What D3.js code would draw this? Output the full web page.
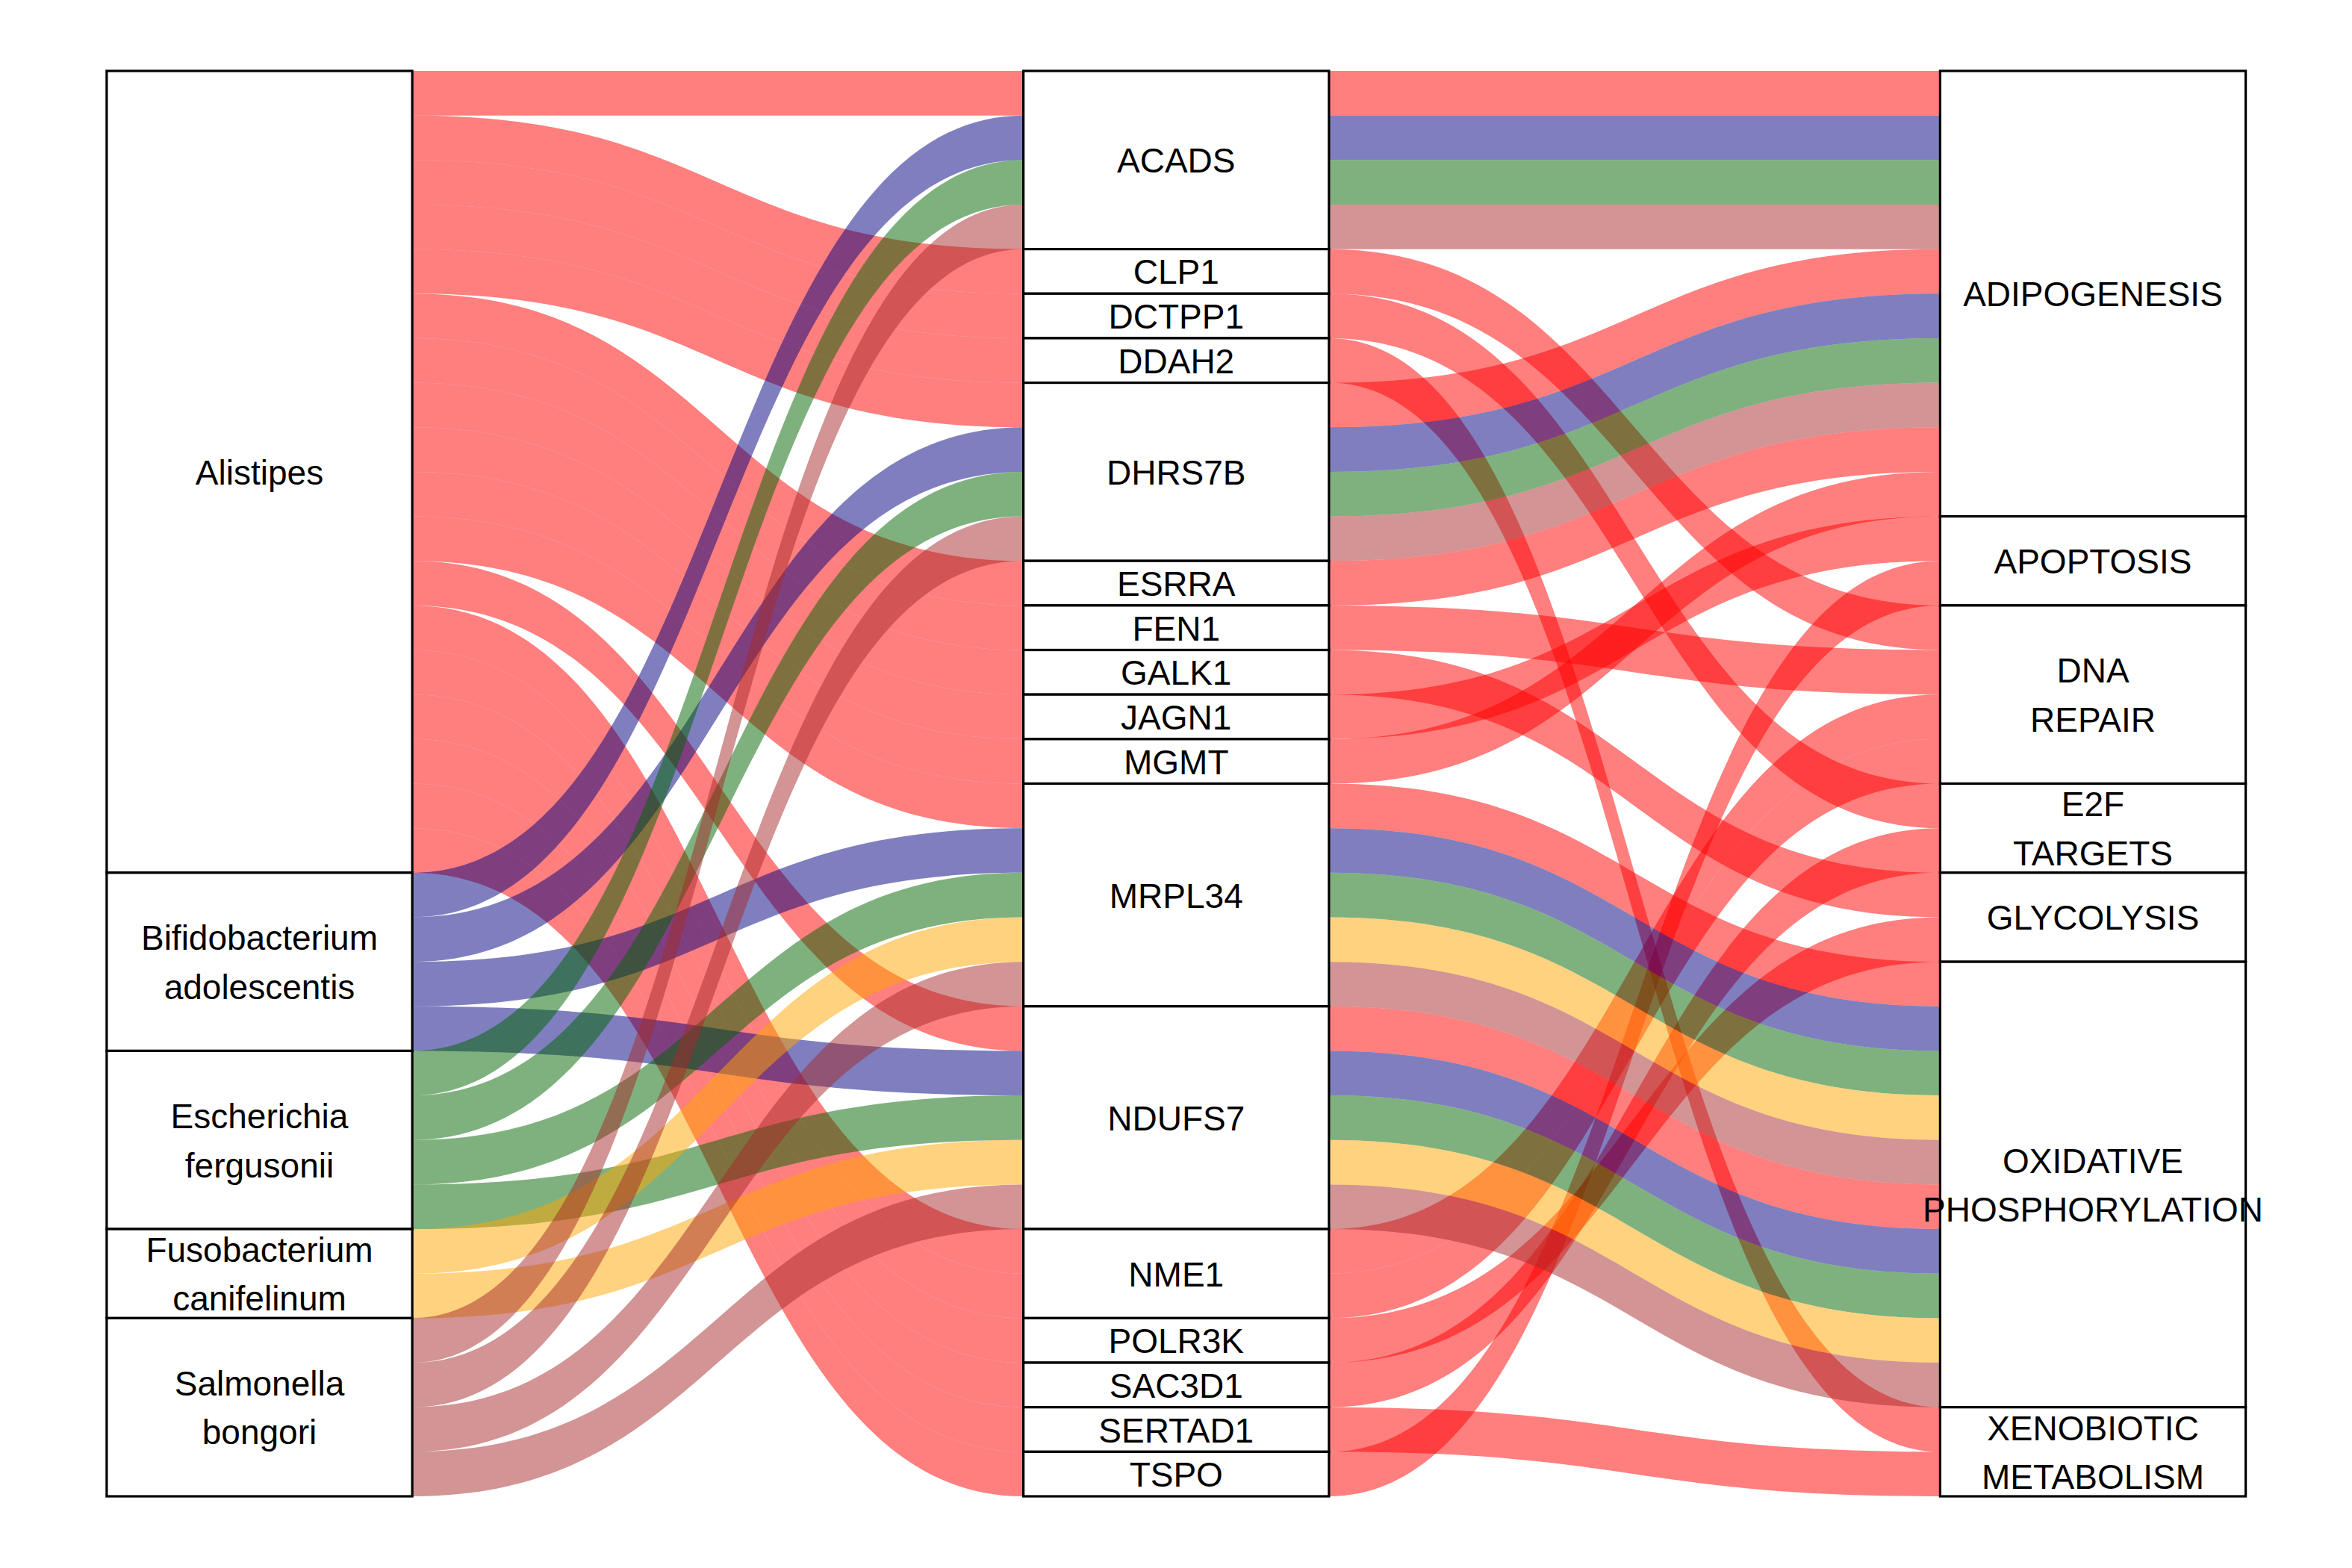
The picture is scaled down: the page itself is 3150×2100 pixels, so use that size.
<!DOCTYPE html>
<html><head><meta charset="utf-8">
<script src="https://cdn.jsdelivr.net/npm/d3@7"></script>
<style>body{margin:0;background:#fff}svg{display:block}</style>
</head><body><svg id="chart" width="3150" height="2100"></svg>
<script>
// ---- categories (stratum order, top to bottom) ----
const bacteria = ["Alistipes","Bifidobacterium adolescentis","Escherichia fergusonii","Fusobacterium canifelinum","Salmonella bongori"];
const genes = ["ACADS","CLP1","DCTPP1","DDAH2","DHRS7B","ESRRA","FEN1","GALK1","JAGN1","MGMT","MRPL34","NDUFS7","NME1","POLR3K","SAC3D1","SERTAD1","TSPO"];
const pathways = ["ADIPOGENESIS","APOPTOSIS","DNA REPAIR","E2F TARGETS","GLYCOLYSIS","OXIDATIVE PHOSPHORYLATION","XENOBIOTIC METABOLISM"];
const bacteriaColors = ["#FF0000","#000080","#006400","#FFA500","#A52A2A"];

// ---- alluvia (one row = one unit) ----
const rowBacteria = [
  "Alistipes","Alistipes","Alistipes","Alistipes","Alistipes","Alistipes","Alistipes","Alistipes","Alistipes",
  "Alistipes","Alistipes","Alistipes","Alistipes","Alistipes","Alistipes","Alistipes","Alistipes","Alistipes",
  "Bifidobacterium adolescentis","Bifidobacterium adolescentis","Bifidobacterium adolescentis","Bifidobacterium adolescentis",
  "Escherichia fergusonii","Escherichia fergusonii","Escherichia fergusonii","Escherichia fergusonii",
  "Fusobacterium canifelinum","Fusobacterium canifelinum",
  "Salmonella bongori","Salmonella bongori","Salmonella bongori","Salmonella bongori"
];
const rowGene = [
  "ACADS","CLP1","DCTPP1","DDAH2","DHRS7B","ESRRA","FEN1","GALK1","JAGN1",
  "MGMT","MRPL34","NDUFS7","NME1","NME1","POLR3K","SAC3D1","SERTAD1","TSPO",
  "ACADS","DHRS7B","MRPL34","NDUFS7",
  "ACADS","DHRS7B","MRPL34","NDUFS7",
  "MRPL34","NDUFS7",
  "ACADS","DHRS7B","MRPL34","NDUFS7"
];
const rowPathway = [
  "ADIPOGENESIS","DNA REPAIR","E2F TARGETS","XENOBIOTIC METABOLISM","ADIPOGENESIS","ADIPOGENESIS","DNA REPAIR","GLYCOLYSIS","APOPTOSIS",
  "ADIPOGENESIS","OXIDATIVE PHOSPHORYLATION","OXIDATIVE PHOSPHORYLATION","DNA REPAIR","DNA REPAIR","GLYCOLYSIS","E2F TARGETS","XENOBIOTIC METABOLISM","APOPTOSIS",
  "ADIPOGENESIS","ADIPOGENESIS","OXIDATIVE PHOSPHORYLATION","OXIDATIVE PHOSPHORYLATION",
  "ADIPOGENESIS","ADIPOGENESIS","OXIDATIVE PHOSPHORYLATION","OXIDATIVE PHOSPHORYLATION",
  "OXIDATIVE PHOSPHORYLATION","OXIDATIVE PHOSPHORYLATION",
  "ADIPOGENESIS","ADIPOGENESIS","OXIDATIVE PHOSPHORYLATION","OXIDATIVE PHOSPHORYLATION"
];

// ---- build ----
const axesCats = [bacteria, genes, pathways];
const n = rowGene.length;
const rows = d3.range(n).map(i => ({
  idx: [bacteria.indexOf(rowBacteria[i]), genes.indexOf(rowGene[i]), pathways.indexOf(rowPathway[i])],
  i
}));
// lode ordering at each axis (zigzag guidance)
const priority = [[0,1,2],[1,0,2],[2,1,0]];
const pos = rows.map(() => [0,0,0]);
priority.forEach((pr, a) => {
  const sorted = rows.slice().sort((r1, r2) => {
    for (const k of pr) { if (r1.idx[k] !== r2.idx[k]) return r1.idx[k] - r2.idx[k]; }
    return r1.i - r2.i;
  });
  sorted.forEach((r, k) => { pos[r.i][a] = k; });
});

const svg = d3.select("#chart");
const y = d3.scaleLinear().domain([0, n]).range([95, 2004]);
const x = d3.scalePoint().domain([0,1,2]).range([347.5, 2803]);
const boxW = (x(1) - x(0)) / 3;
const color = d3.scaleOrdinal().domain(bacteria).range(bacteriaColors);

function flowPath(xa, ya, xb, yb, h) {
  const xm = (xa + xb) / 2;
  const p = d3.path();
  p.moveTo(xa, ya);
  p.bezierCurveTo(xm, ya, xm, yb, xb, yb);
  p.lineTo(xb, yb + h);
  p.bezierCurveTo(xm, yb + h, xm, ya + h, xa, ya + h);
  p.closePath();
  return p.toString();
}

const unit = y(1) - y(0);
const gFlows = svg.append("g");
rows.forEach(r => {
  for (let a = 0; a < 2; a++) {
    gFlows.append("path")
      .attr("d", flowPath(x(a) + boxW/2, y(pos[r.i][a]), x(a+1) - boxW/2, y(pos[r.i][a+1]), unit))
      .attr("fill", color(rowBacteria[r.i]))
      .attr("fill-opacity", 0.5)
      .attr("stroke", "none");
  }
});

// strata
const gStrata = svg.append("g");
axesCats.forEach((cats, a) => {
  let start = 0;
  cats.forEach((c, ci) => {
    const cnt = rows.filter(r => r.idx[a] === ci).length;
    if (!cnt) return;
    const y0 = y(start), y1 = y(start + cnt);
    gStrata.append("rect")
      .attr("x", x(a) - boxW/2).attr("y", y0)
      .attr("width", boxW).attr("height", y1 - y0)
      .attr("fill", "#fff").attr("stroke", "#000").attr("stroke-width", 3.2);
    const lines = c.split(" ");
    const cy = (y0 + y1) / 2;
    const lh = 65.5;
    const t = gStrata.append("text")
      .attr("text-anchor", "middle")
      .attr("font-family", "'Liberation Sans', Arial, Helvetica, sans-serif")
      .attr("font-size", 46)
      .attr("fill", "#000");
    lines.forEach((ln, k) => {
      t.append("tspan")
        .attr("x", x(a))
        .attr("y", cy + (k - (lines.length - 1) / 2) * lh + 17)
        .text(ln);
    });
    start += cnt;
  });
});
</script>
</body></html>
